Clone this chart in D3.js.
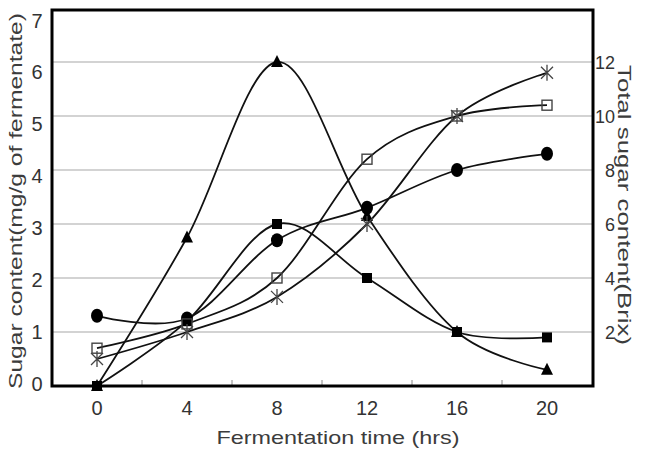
<!DOCTYPE html>
<html><head><meta charset="utf-8">
<script src="https://cdn.jsdelivr.net/npm/d3@7"></script>
<style>body{margin:0;background:#fff}svg{display:block}text{font-family:"Liberation Sans",Arial,sans-serif;fill:#333}</style>
</head><body><svg id="c" width="649" height="456"></svg>
<script>
const hours = [0, 4, 8, 12, 16, 20];
const triangleSeries = [0, 2.75, 6.0, 3.15, 1.0, 0.3];
const filledSquareSeries = [0, 1.2, 3.0, 2.0, 1.0, 0.9];
const circleSeries = [1.3, 1.25, 2.7, 3.3, 4.0, 4.3];
const openSquareSeries = [0.7, 1.15, 2.0, 4.2, 5.0, 5.2];
const asteriskSeries = [0.5, 1.0, 1.65, 3.0, 5.0, 5.8];
const leftTicks = [0, 1, 2, 3, 4, 5, 6, 7];
const rightTicks = [2, 4, 6, 8, 10, 12];

const svg = d3.select("#c");
const L = 52, R = 593, T = 10, B = 386;
const x = d3.scaleBand().domain(hours).range([L, L + 540]);
const cx = d => x(d) + x.bandwidth() / 2;
const y = d3.scaleLinear().domain([0, 7]).range([B, 8]);
const yR = d3.scaleLinear().domain([0, 14]).range([B, 8]);
const yLab = d3.scaleLinear().domain([0, 7]).range([383, 20]);

// gridlines
svg.append("g").selectAll("line").data([1, 2, 3, 4, 5, 6]).join("line")
  .attr("x1", L).attr("x2", R).attr("y1", d => y(d)).attr("y2", d => y(d))
  .attr("stroke", "#c4c4c4").attr("stroke-width", 1.5);

// minor ticks between categories
svg.append("g").selectAll("line").data(hours.slice(1)).join("line")
  .attr("x1", d => x(d)).attr("x2", d => x(d)).attr("y1", B - 6).attr("y2", B)
  .attr("stroke", "#888").attr("stroke-width", 1);

const line = d3.line().x((d, i) => cx(hours[i])).y(d => y(d)).curve(d3.curveCardinal.tension(0));
const series = [triangleSeries, filledSquareSeries, circleSeries, openSquareSeries, asteriskSeries];
svg.append("g").selectAll("path").data(series).join("path")
  .attr("d", d => line(d)).attr("fill", "none").attr("stroke", "#111").attr("stroke-width", 1.8);

// markers
const mk = svg.append("g");
mk.selectAll(".tri").data(triangleSeries).join("path")
  .attr("d", (d, i) => { const px = cx(hours[i]), py = y(d); return `M${px},${py-7}L${px+6},${py+5}L${px-6},${py+5}Z`; })
  .attr("fill", "#000");
mk.selectAll(".fsq").data(filledSquareSeries).join("rect")
  .attr("x", (d, i) => cx(hours[i]) - 5).attr("y", d => y(d) - 5).attr("width", 10).attr("height", 10).attr("fill", "#000");
mk.selectAll(".cir").data(circleSeries).join("ellipse")
  .attr("cx", (d, i) => cx(hours[i])).attr("cy", d => y(d)).attr("rx", 6).attr("ry", 7).attr("fill", "#000");
mk.selectAll(".osq").data(openSquareSeries).join("rect")
  .attr("x", (d, i) => cx(hours[i]) - 5).attr("y", d => y(d) - 5).attr("width", 10).attr("height", 10)
  .attr("fill", "none").attr("stroke", "#444").attr("stroke-width", 1.4);
mk.selectAll(".ast").data(asteriskSeries).join("path")
  .attr("d", (d, i) => { const px = cx(hours[i]), py = y(d); return `M${px},${py-8}V${py+8}M${px-6},${py-6}L${px+6},${py+6}M${px+6},${py-6}L${px-6},${py+6}`; })
  .attr("fill", "none").attr("stroke", "#444").attr("stroke-width", 1.3);

// frame
svg.append("rect").attr("x", L).attr("y", T).attr("width", R - L).attr("height", B - T)
  .attr("fill", "none").attr("stroke", "#000").attr("stroke-width", 3);

// left tick labels
svg.append("g").selectAll("text").data(leftTicks).join("text")
  .attr("x", 37).attr("y", d => yLab(d) + 7.5).attr("text-anchor", "middle").attr("font-size", 20).text(d => d);
// right tick labels
svg.append("g").selectAll("text").data(rightTicks).join("text")
  .attr("x", 615).attr("y", d => yR(d) + 7).attr("text-anchor", "end").attr("font-size", 18).text(d => d);
// x tick labels
svg.append("g").selectAll("text").data(hours).join("text")
  .attr("x", d => cx(d)).attr("y", 415).attr("text-anchor", "middle").attr("font-size", 20).text(d => d);

svg.append("text").attr("x", 338).attr("y", 444).attr("text-anchor", "middle").attr("font-size", 19)
  .attr("textLength", 243).attr("lengthAdjust", "spacingAndGlyphs").style("fill", "#3c3c3c")
  .text("Fermentation time (hrs)");
svg.append("text").attr("transform", "translate(22,201) rotate(-90)").attr("text-anchor", "middle").attr("font-size", 19)
  .attr("textLength", 376).attr("lengthAdjust", "spacingAndGlyphs").style("fill", "#3c3c3c")
  .text("Sugar content(mg/g of fermentate)");
svg.append("text").attr("transform", "translate(618,205) rotate(90)").attr("text-anchor", "middle").attr("font-size", 19)
  .attr("textLength", 280).attr("lengthAdjust", "spacingAndGlyphs").style("fill", "#3c3c3c")
  .text("Total sugar content(Brix)");
</script></body></html>
